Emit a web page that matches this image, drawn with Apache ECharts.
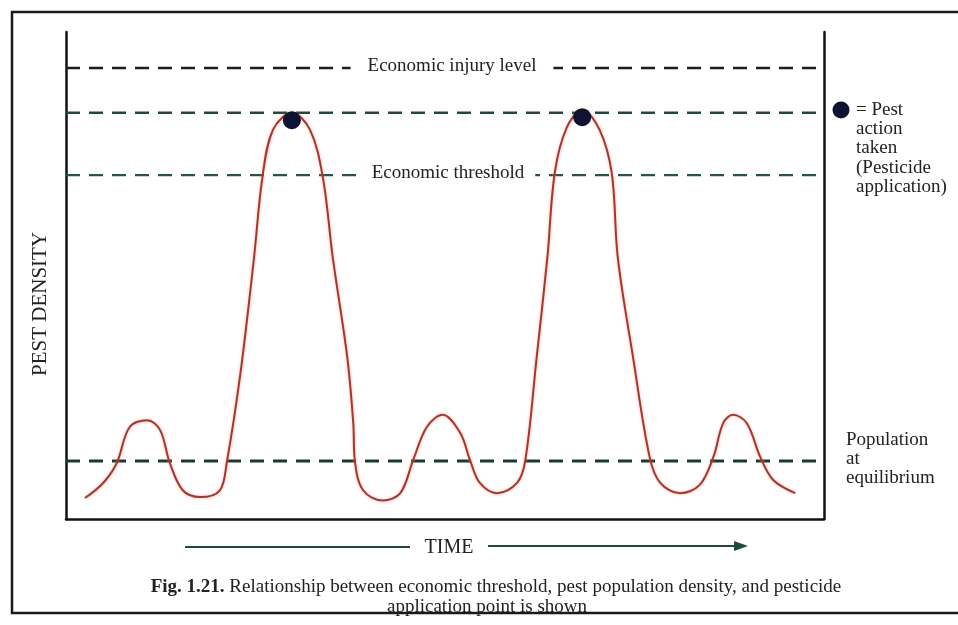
<!DOCTYPE html>
<html lang="en">

<head>
    <meta charset="UTF-8">
    <title>Economic threshold</title>
    <script src="https://cdn.jsdelivr.net/npm/echarts@6/dist/echarts.min.js"></script>
    <style>
        html, body { margin: 0; padding: 0; background: #fff; }
        #container { width: 958px; height: 625px; }
    </style>
</head>

<body>
    <div id="container"></div>
    <script type="text/javascript">
        // pest density curve (time 0-100, density 0-100)
        var timeVals = [2.5, 4.9, 6.7, 8.4, 10.7, 12.4, 13.7, 15.4, 17.7, 20.3, 21.2, 23.0, 24.8, 25.9, 27.3, 29.8,
            32.2, 33.9, 35.2, 37.1, 37.9, 38.1, 39.2, 41.8, 44.1, 45.8, 47.6, 49.7, 52.0, 53.3, 54.6, 56.9,
            59.5, 60.6, 62.1, 63.5, 64.5, 66.1, 68.1, 70.4, 72.0, 72.8, 74.8, 77.0, 78.4, 81.0, 83.6, 85.4,
            86.7, 88.0, 89.8, 91.6, 93.3, 96.2];
        var densityVals = [4.3, 7.4, 11.5, 18.9, 20.3, 18.3, 11.5, 5.9, 4.5, 5.9, 11.5, 29.8, 53.6, 70.0, 79.9, 83.4,
            79.9, 70.0, 53.6, 33.3, 19.7, 12.1, 5.9, 3.8, 5.3, 12.1, 18.9, 21.4, 17.7, 12.1, 7.4, 5.3,
            7.4, 12.1, 33.3, 53.6, 71.3, 80.5, 84.0, 79.9, 71.0, 53.6, 33.3, 12.7, 7.4, 5.3, 7.0, 12.7,
            19.7, 21.4, 19.7, 12.7, 8.0, 5.3];

        // points where pest action was taken
        var actionTime = [29.8, 68.1];
        var actionDensity = [81.9, 82.5];

        // reference levels
        var levelNames = ['Economic injury level', 'Pest action', 'Economic threshold', 'Population at equilibrium'];
        var levelVals = [92.6, 83.4, 70.6, 11.9];
        var levelColors = ['#1c1c1c', '#1f4a3c', '#24544a', '#1b3a2e'];
        var levelWidths = [2.5, 2.5, 2.2, 3];

        var serif = '"Liberation Serif", "DejaVu Serif", serif';
        var dom = document.getElementById('container');
        var myChart = echarts.init(dom, null, { renderer: 'canvas' });

        var curve = timeVals.map(function (t, i) { return [t, densityVals[i]]; });
        var dots = actionTime.map(function (t, i) { return [t, actionDensity[i]]; });

        var series = levelVals.map(function (v, i) {
            return {
                name: levelNames[i],
                type: 'line',
                data: [[0, v], [100, v]],
                symbol: 'none',
                silent: true,
                z: 1,
                lineStyle: { color: levelColors[i], width: levelWidths[i], type: [14, 9] }
            };
        });
        series.push({
            name: 'Pest density',
            type: 'line',
            data: curve,
            smooth: 0.35,
            symbol: 'none',
            z: 3,
            lineStyle: {
                color: '#a9362c',
                width: 2,
                shadowColor: 'rgba(240,130,110,0.6)',
                shadowBlur: 3
            }
        });
        series.push({
            name: 'Pest action taken',
            type: 'scatter',
            data: dots,
            symbolSize: 18,
            z: 4,
            itemStyle: { color: '#0e1233', opacity: 1 }
        });

        var option = {
            backgroundColor: '#ffffff',
            animation: false,
            grid: { left: 66, right: 134, top: 32, bottom: 106, show: false },
            xAxis: {
                type: 'value', min: 0, max: 100,
                axisLine: { show: true, onZero: false, lineStyle: { color: '#111', width: 2.5 } },
                axisTick: { show: false }, axisLabel: { show: false }, splitLine: { show: false }
            },
            yAxis: [{
                type: 'value', min: 0, max: 100, position: 'left',
                axisLine: { show: true, onZero: false, lineStyle: { color: '#111', width: 2.5 } },
                axisTick: { show: false }, axisLabel: { show: false }, splitLine: { show: false }
            }, {
                type: 'value', min: 0, max: 100, position: 'right',
                axisLine: { show: true, onZero: false, lineStyle: { color: '#111', width: 2.5 } },
                axisTick: { show: false }, axisLabel: { show: false }, splitLine: { show: false }
            }],
            series: series,
            graphic: [
                // outer frame
                { type: 'rect', z: 0, shape: { x: 12, y: 12, width: 960, height: 601 },
                  style: { fill: 'none', stroke: '#1a1a1a', lineWidth: 2.5 } },
                // level labels
                { type: 'text', z: 100, x: 452, y: 66,
                  style: { text: 'Economic injury level', font: '19px ' + serif, fill: '#222',
                           align: 'center', verticalAlign: 'middle', backgroundColor: '#fff', padding: [2, 17] } },
                { type: 'text', z: 100, x: 448, y: 173,
                  style: { text: 'Economic threshold', font: '19px ' + serif, fill: '#222',
                           align: 'center', verticalAlign: 'middle', backgroundColor: '#fff', padding: [2, 11] } },
                // legend on the right
                { type: 'circle', z: 100, shape: { cx: 841, cy: 110, r: 8.5 }, style: { fill: '#0e1233' } },
                { type: 'text', z: 100, x: 856, y: 100,
                  style: { text: '= Pest\naction\ntaken\n(Pesticide\napplication)', font: '19px ' + serif,
                           lineHeight: 19.3, fill: '#222', align: 'left', verticalAlign: 'top' } },
                { type: 'text', z: 100, x: 846, y: 430,
                  style: { text: 'Population\nat\nequilibrium', font: '19px ' + serif,
                           lineHeight: 19.3, fill: '#222', align: 'left', verticalAlign: 'top' } },
                // axis titles
                { type: 'text', z: 100, x: 40, y: 304, rotation: Math.PI / 2,
                  style: { text: 'PEST DENSITY', font: '21px ' + serif, fill: '#222',
                           align: 'center', verticalAlign: 'middle' } },
                { type: 'line', z: 100, shape: { x1: 185, y1: 547, x2: 410, y2: 547 },
                  style: { stroke: '#1e4a3a', lineWidth: 2 } },
                { type: 'text', z: 100, x: 449, y: 548,
                  style: { text: 'TIME', font: '20px ' + serif, fill: '#222',
                           align: 'center', verticalAlign: 'middle' } },
                { type: 'line', z: 100, shape: { x1: 488, y1: 546, x2: 738, y2: 546 },
                  style: { stroke: '#1e4a3a', lineWidth: 2 } },
                { type: 'polygon', z: 100, shape: { points: [[748, 546], [734, 541], [734, 551]] },
                  style: { fill: '#1e4a3a' } },
                // caption
                { type: 'text', z: 100, x: 496, y: 587,
                  style: { text: '{b|Fig. 1.21.} Relationship between economic threshold, pest population density, and pesticide',
                           font: '19px ' + serif, fill: '#222', align: 'center', verticalAlign: 'middle',
                           rich: { b: { font: 'bold 19px ' + serif, fill: '#222' } } } },
                { type: 'text', z: 100, x: 487, y: 607,
                  style: { text: 'application point is shown', font: '19px ' + serif, fill: '#222',
                           align: 'center', verticalAlign: 'middle' } }
            ]
        };

        myChart.setOption(option);
        window.addEventListener('resize', myChart.resize);
    </script>
</body>

</html>
